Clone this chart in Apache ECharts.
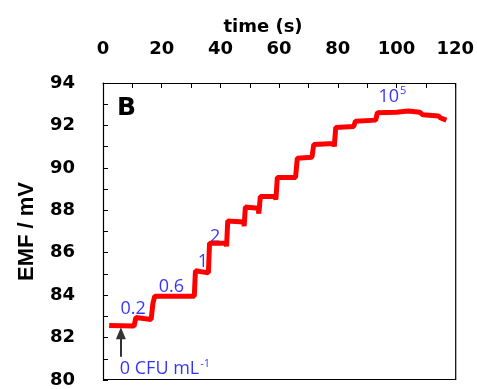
<!DOCTYPE html>
<html>
<head>
<meta charset="utf-8">
<script src="https://cdn.jsdelivr.net/npm/echarts@6/dist/echarts.min.js"></script>
<style>
  html, body { margin: 0; padding: 0; background: #fff; }
  #chart { width: 477px; height: 389px; }
</style>
</head>
<body>
<div id="chart"></div>
<script>
// EMF trace (time in s, EMF in mV)
const time = [2.1, 10.6, 11.2, 16.4, 17.0, 17.6, 31.1, 31.5, 35.9, 36.3, 41.9, 42.1, 42.5, 47.9, 48.1, 48.5,
  52.8, 53.1, 53.6, 58.7, 58.9, 59.4, 65.6, 66.2, 71.2, 71.8, 78.6, 78.8, 79.3, 85.4, 86.0, 92.9, 93.5,
  100.0, 104.0, 108.0, 109.0, 114.3, 115.0, 117.0]
const emf = [82.57, 82.55, 82.95, 82.85, 83.6, 83.95, 83.95, 85.15, 85.05, 86.45, 86.45, 86.3, 87.5, 87.45, 87.25, 88.15,
  88.1, 87.85, 88.65, 88.65, 88.5, 89.55, 89.55, 90.45, 90.5, 91.1, 91.15, 91.0, 91.9, 91.95, 92.2, 92.25, 92.6,
  92.62, 92.68, 92.62, 92.5, 92.45, 92.35, 92.25]

// concentration labels (CFU mL-1) and where they sit on the plot
const concLabels = ['0.2', '0.6', '1', '2', '{n|10}{s|5}', '{n|0 CFU mL}{s|-1}']
const concTime = [10.3, 23.3, 34.0, 38.2, 98.6, 21.1]
const concEmf = [83.35, 84.4, 85.55, 86.75, 93.35, 80.52]

const xTicks = [0, 20, 40, 60, 80, 100, 120]
const yTicks = [80, 82, 84, 86, 88, 90, 92, 94]

const chart = echarts.init(document.getElementById('chart'), null, { renderer: 'canvas' })

const tickFont = {
  fontFamily: '"DejaVu Sans", sans-serif',
  fontWeight: 'bold',
  fontSize: 18,
  color: '#000'
}
const noteFont = '"Open Sans", "Noto Sans", sans-serif'
const noteBlue = '#0000ff'

const option = {
  animation: false,
  grid: {
    left: 103,
    right: 21,
    top: 83,
    bottom: 6
  },
  xAxis: {
    type: 'value',
    position: 'top',
    min: 0,
    max: 120,
    interval: 10,
    axisLine: { show: true, onZero: false, lineStyle: { color: '#000', width: 1 } },
    axisTick: { show: true, inside: true, length: 5, lineStyle: { color: '#000' } },
    axisLabel: {
      ...tickFont,
      margin: 25,
      formatter: v => xTicks.includes(v) ? String(v) : ''
    },
    splitLine: { show: false }
  },
  yAxis: {
    type: 'value',
    min: 80,
    max: 94,
    interval: 1,
    name: 'EMF / mV',
    nameLocation: 'middle',
    nameGap: 65,
    nameTextStyle: { fontFamily: '"Liberation Sans", Arial, sans-serif', fontWeight: 'bold', fontSize: 22, color: '#000' },
    axisLine: { show: true, onZero: false, lineStyle: { color: '#000', width: 1 } },
    axisTick: { show: true, inside: true, length: 5, lineStyle: { color: '#000' } },
    axisLabel: {
      ...tickFont,
      margin: 28,
      padding: [4, 0, 0, 0],
      formatter: v => yTicks.includes(v) ? String(v) : ''
    },
    splitLine: { show: false }
  },
  series: [
    {
      name: 'EMF',
      type: 'line',
      data: time.map((t, i) => [t, emf[i]]),
      showSymbol: false,
      lineStyle: { color: '#ff0000', width: 5 },
      itemStyle: { color: '#ff0000' },
      silent: true,
      markLine: {
        silent: true,
        symbol: ['none', 'triangle'],
        symbolSize: [10, 12],
        label: { show: false },
        lineStyle: { color: '#333', width: 2, type: 'solid' },
        data: [[{ coord: [6.1, 81.1] }, { coord: [6.1, 82.2] }]]
      }
    },
    {
      name: 'labels',
      type: 'scatter',
      symbolSize: 0,
      silent: true,
      data: concLabels.map((l, i) => ({ value: [concTime[i], concEmf[i]], name: l })),
      label: {
        show: true,
        position: 'inside',
        formatter: p => p.name,
        fontFamily: noteFont,
        fontSize: 18,
        color: noteBlue,
        rich: {
          n: { fontFamily: noteFont, fontSize: 18, color: noteBlue, lineHeight: 22 },
          s: { fontFamily: noteFont, fontSize: 11, color: noteBlue, verticalAlign: 'top', lineHeight: 22, padding: [0, 0, 10, 1] }
        }
      }
    }
  ]
}

chart.setOption(option)

// plot frame, x axis title and panel letter
const [x0, y1] = chart.convertToPixel({ gridIndex: 0 }, [0, 94])
const [x1, y0] = chart.convertToPixel({ gridIndex: 0 }, [120, 80])
chart.setOption({
  graphic: [
    {
      type: 'rect',
      silent: true,
      z: 100,
      shape: { x: x0 + 0.5, y: y1 + 0.5, width: x1 - x0, height: y0 - y1 - 1 },
      style: { fill: 'none', stroke: '#000', lineWidth: 1.2 }
    },
    {
      type: 'text',
      x: 263,
      y: 27,
      style: {
        text: 'time (s)',
        font: 'bold 18px "DejaVu Sans", sans-serif',
        fill: '#000',
        align: 'center',
        verticalAlign: 'middle'
      }
    },
    {
      type: 'text',
      left: 117,
      top: 96,
      style: {
        text: 'B',
        font: 'bold 25px "DejaVu Sans", sans-serif',
        fill: '#000'
      }
    }
  ]
})

window.addEventListener('resize', () => chart.resize())
</script>
</body>
</html>
